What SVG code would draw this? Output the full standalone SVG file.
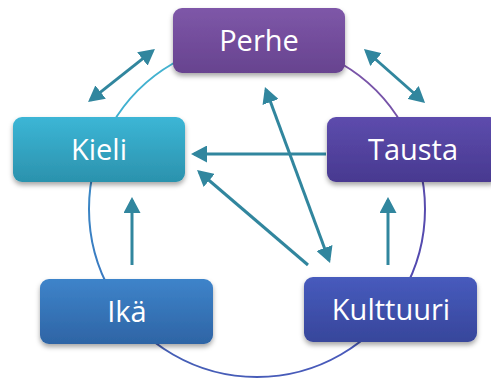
<svg xmlns="http://www.w3.org/2000/svg" width="491" height="379" viewBox="0 0 491 379">
  <style>
    .ring { fill: none; stroke-width: 2; }
    .link { fill: none; stroke: #31869e; stroke-width: 3; }
    .box { filter: url(#shadow); }
    .label { font-family: "Open Sans", "Noto Sans", sans-serif; font-size: 29px; fill: #ffffff; text-anchor: middle; }
  </style>
  <defs>
    <filter id="shadow" x="-10%" y="-20%" width="120%" height="150%">
      <feDropShadow dx="0" dy="3" stdDeviation="2.5" flood-color="#000000" flood-opacity="0.35"/>
    </filter>
    <marker id="head" viewBox="0 0 16 17" markerWidth="16" markerHeight="17" refX="13" refY="8.5" markerUnits="userSpaceOnUse" orient="auto-start-reverse">
      <path d="M0,0 L16,8.5 L0,17 z" fill="#31869e"/>
    </marker>
    <linearGradient id="gPerhe" x1="0" y1="0" x2="0" y2="1">
      <stop offset="0" stop-color="#7e57a8"/>
      <stop offset="1" stop-color="#67438f"/>
    </linearGradient>
    <linearGradient id="gKieli" x1="0" y1="0" x2="0" y2="1">
      <stop offset="0" stop-color="#3cb6d6"/>
      <stop offset="1" stop-color="#2b92ad"/>
    </linearGradient>
    <linearGradient id="gTausta" x1="0" y1="0" x2="0" y2="1">
      <stop offset="0" stop-color="#5d4cad"/>
      <stop offset="1" stop-color="#483990"/>
    </linearGradient>
    <linearGradient id="gIka" x1="0" y1="0" x2="0" y2="1">
      <stop offset="0" stop-color="#3e84ca"/>
      <stop offset="1" stop-color="#2e64a5"/>
    </linearGradient>
    <linearGradient id="gKult" x1="0" y1="0" x2="0" y2="1">
      <stop offset="0" stop-color="#475bbd"/>
      <stop offset="1" stop-color="#37469b"/>
    </linearGradient>
    <linearGradient id="arc1" gradientUnits="userSpaceOnUse" x1="111" y1="125" x2="257" y2="41">
      <stop offset="0" stop-color="#3fb0d0"/>
      <stop offset="1" stop-color="#48b4cf"/>
    </linearGradient>
    <linearGradient id="arc2" gradientUnits="userSpaceOnUse" x1="257" y1="41" x2="402" y2="125">
      <stop offset="0" stop-color="#8258a8"/>
      <stop offset="1" stop-color="#7452a8"/>
    </linearGradient>
    <linearGradient id="arc3" gradientUnits="userSpaceOnUse" x1="402" y1="125" x2="402" y2="293">
      <stop offset="0" stop-color="#6150ac"/>
      <stop offset="1" stop-color="#4f48b0"/>
    </linearGradient>
    <linearGradient id="arc4" gradientUnits="userSpaceOnUse" x1="402" y1="293" x2="111" y2="293">
      <stop offset="0" stop-color="#4a58bc"/>
      <stop offset="1" stop-color="#4460b4"/>
    </linearGradient>
    <linearGradient id="arc5" gradientUnits="userSpaceOnUse" x1="111" y1="293" x2="111" y2="125">
      <stop offset="0" stop-color="#3a78c0"/>
      <stop offset="1" stop-color="#3a90c8"/>
    </linearGradient>
  </defs>

  <!-- cycle ring behind the nodes -->
  <g id="ring">
    <path class="ring" stroke="url(#arc1)" d="M111.5,125 A168,168 0 0 1 257,41"/>
    <path class="ring" stroke="url(#arc2)" d="M257,41 A168,168 0 0 1 402.5,125"/>
    <path class="ring" stroke="url(#arc3)" d="M402.5,125 A168,168 0 0 1 402.5,293"/>
    <path class="ring" stroke="url(#arc4)" d="M402.5,293 A168,168 0 0 1 111.5,293"/>
    <path class="ring" stroke="url(#arc5)" d="M111.5,293 A168,168 0 0 1 111.5,125"/>
  </g>

  <!-- connectors -->
  <g id="connectors">
    <line class="link" x1="90.4" y1="100.1" x2="152.6" y2="50.9" marker-start="url(#head)" marker-end="url(#head)"/>
    <line class="link" x1="366.2" y1="51" x2="422.8" y2="101" marker-start="url(#head)" marker-end="url(#head)"/>
    <line class="link" x1="326" y1="154" x2="194" y2="154" marker-end="url(#head)"/>
    <line class="link" x1="308" y1="265" x2="199.3" y2="172" marker-end="url(#head)"/>
    <line class="link" x1="266" y1="89.8" x2="329" y2="260.2" marker-start="url(#head)" marker-end="url(#head)"/>
    <line class="link" x1="132" y1="265" x2="132" y2="200" marker-end="url(#head)"/>
    <line class="link" x1="388" y1="265" x2="388" y2="200" marker-end="url(#head)"/>
  </g>

  <!-- nodes -->
  <g id="perhe">
    <rect class="box" x="173" y="8" width="172" height="65" rx="9" fill="url(#gPerhe)"/>
    <text class="label" x="259" y="51">Perhe</text>
  </g>
  <g id="kieli">
    <rect class="box" x="13" y="117" width="172" height="65" rx="9" fill="url(#gKieli)"/>
    <text class="label" x="99" y="160">Kieli</text>
  </g>
  <g id="tausta">
    <rect class="box" x="327" y="117" width="172" height="65" rx="9" fill="url(#gTausta)"/>
    <text class="label" x="413" y="160">Tausta</text>
  </g>
  <g id="ika">
    <rect class="box" x="40" y="279" width="173" height="65" rx="9" fill="url(#gIka)"/>
    <text class="label" x="127" y="322">Ikä</text>
  </g>
  <g id="kulttuuri">
    <rect class="box" x="304" y="277" width="173" height="65" rx="9" fill="url(#gKult)"/>
    <text class="label" x="391" y="320">Kulttuuri</text>
  </g>
</svg>
